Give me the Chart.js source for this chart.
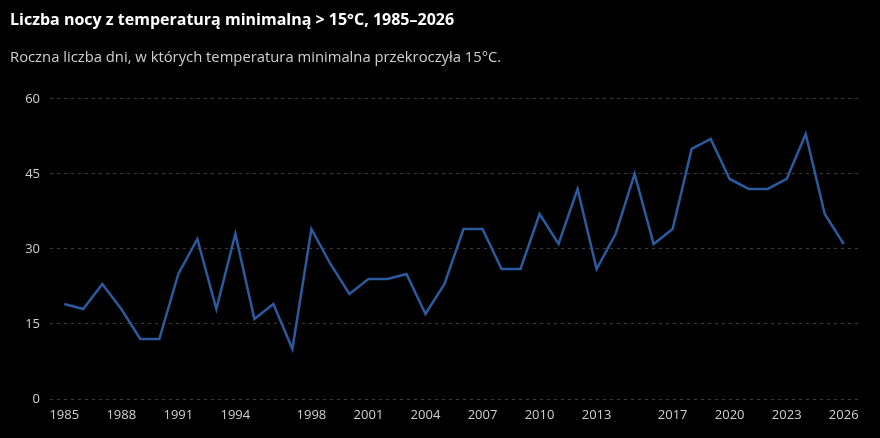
<!DOCTYPE html>
<html lang="pl">
<head>
    <meta charset="UTF-8">
    <title>Liczba nocy z temperaturą minimalną > 15°C</title>
    <script src="https://cdn.jsdelivr.net/npm/chart.js"></script>
    <style>
        html, body { margin: 0; padding: 0; background: #000; }
        #wrap { width: 880px; height: 438px; }
    </style>
</head>
<body>
    <div id="wrap"><canvas id="nightsChart"></canvas></div>
    <script>
        // dane
        var years = [1985, 1986, 1987, 1988, 1989, 1990, 1991, 1992, 1993, 1994,
                     1995, 1996, 1997, 1998, 1999, 2000, 2001, 2002, 2003, 2004,
                     2005, 2006, 2007, 2008, 2009, 2010, 2011, 2012, 2013, 2014,
                     2015, 2016, 2017, 2018, 2019, 2020, 2021, 2022, 2023, 2024,
                     2025, 2026];
        var nights = [19, 18, 23, 18, 12, 12, 25, 32, 18, 33,
                      16, 19, 10, 34, 27, 21, 24, 24, 25, 17,
                      23, 34, 34, 26, 26, 37, 31, 42, 26, 33,
                      45, 31, 34, 50, 52, 44, 42, 42, 44, 53,
                      37, 31];
        var xTickYears = [1985, 1988, 1991, 1994, 1998, 2001, 2004, 2007, 2010, 2013, 2017, 2020, 2023, 2026];
        var yTicks = [0, 15, 30, 45, 60];

        var font = '"Open Sans", "Noto Sans", sans-serif';

        var ctx = document.getElementById('nightsChart').getContext('2d');
        new Chart(ctx, {
            type: 'line',
            data: {
                datasets: [{
                    label: 'Liczba nocy',
                    data: years.map(function (y, i) { return { x: y, y: nights[i] }; }),
                    borderColor: '#2b5a9e',
                    borderWidth: 2.5,
                    pointRadius: 0,
                    tension: 0,
                    fill: false
                }]
            },
            options: {
                responsive: true,
                maintainAspectRatio: false,
                animation: false,
                layout: { padding: { left: 10, right: 22, top: 0, bottom: 0 } },
                plugins: {
                    legend: { display: false },
                    tooltip: { enabled: false },
                    title: {
                        display: true,
                        align: 'start',
                        text: 'Liczba nocy z temperaturą minimalną > 15°C, 1985–2026',
                        color: '#ffffff',
                        font: { family: font, size: 16, weight: 'bold' },
                        padding: { top: 11, bottom: 19 }
                    },
                    subtitle: {
                        display: true,
                        align: 'start',
                        text: 'Roczna liczba dni, w których temperatura minimalna przekroczyła 15°C.',
                        color: '#d0d0d0',
                        font: { family: font, size: 14.8 },
                        padding: { top: 0, bottom: 32 }
                    }
                },
                scales: {
                    x: {
                        type: 'linear',
                        min: 1984.25,
                        max: 2026.75,
                        afterBuildTicks: function (axis) {
                            axis.ticks = xTickYears.map(function (v) { return { value: v }; });
                        },
                        afterFit: function (axis) { axis.height = 39; },
                        grid: { display: false, drawTicks: false },
                        border: { display: false },
                        ticks: {
                            color: '#d0d0d0',
                            font: { family: font, size: 13 },
                            padding: 8,
                            maxRotation: 0,
                            autoSkip: false,
                            callback: function (v) { return String(v); }
                        }
                    },
                    y: {
                        min: 0,
                        max: 60,
                        afterBuildTicks: function (axis) {
                            axis.ticks = yTicks.map(function (v) { return { value: v }; });
                        },
                        afterFit: function (axis) { axis.width = 40; },
                        border: { display: false, dash: [3, 4] },
                        grid: {
                            color: '#3a3a3a',
                            lineWidth: 1,
                            drawTicks: false
                        },
                        ticks: {
                            color: '#d0d0d0',
                            font: { family: font, size: 13 },
                            padding: 10
                        }
                    }
                }
            }
        });
    </script>
</body>
</html>
